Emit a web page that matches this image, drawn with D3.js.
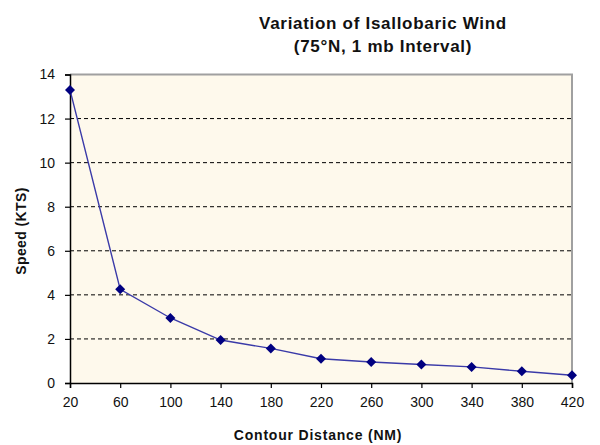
<!DOCTYPE html>
<html><head><meta charset="utf-8">
<script src="https://cdn.jsdelivr.net/npm/d3@7"></script>
<style>body{margin:0;background:#fff}svg{display:block}text{font-family:Arial,"Liberation Sans",sans-serif}</style>
</head><body><svg id="c" width="600" height="445"></svg>
<script>
const distances = [20, 60, 100, 140, 180, 220, 260, 300, 340, 380, 420];
const speeds = [13.3, 4.25, 2.95, 1.95, 1.57, 1.1, 0.95, 0.84, 0.73, 0.53, 0.35];
const xTicks = [20, 60, 100, 140, 180, 220, 260, 300, 340, 380, 420];
const yTicks = [0, 2, 4, 6, 8, 10, 12, 14];
const titleLines = ["Variation of Isallobaric Wind", "(75°N, 1 mb Interval)"];

const svg = d3.select("#c");
const L = 70, R = 572, T = 74.5, B = 383;
const x = d3.scaleLinear().domain([20, 420]).range([L, R]);
const y = d3.scaleLinear().domain([0, 14]).range([B, T]);

svg.append("rect").attr("x", L).attr("y", T).attr("width", R - L).attr("height", B - T).attr("fill", "#fef9ec");

// grid
svg.append("g").selectAll("line").data(yTicks.filter(d => d > 0 && d < 14)).join("line")
  .attr("x1", L).attr("x2", R).attr("y1", d => y(d)).attr("y2", d => y(d))
  .attr("stroke", "#000").attr("stroke-width", 1).attr("stroke-dasharray", "4,3");

// top/right border
svg.append("path").attr("d", `M${L},${T}H${R}V${B}`).attr("fill", "none").attr("stroke", "#a0a0a0").attr("stroke-width", 2);

const xAxis = svg.append("g").attr("transform", `translate(0,${B})`)
  .call(d3.axisBottom(x).tickValues(xTicks).tickSize(5).tickPadding(9));
const yAxis = svg.append("g").attr("transform", `translate(${L},0)`)
  .call(d3.axisLeft(y).tickValues(yTicks).tickSize(5).tickPadding(10));
[xAxis, yAxis].forEach(g => {
  g.attr("font-size", 14);
  g.select(".domain").attr("stroke", "#000").attr("stroke-width", 1.5);
  g.selectAll(".tick line").attr("stroke", "#000").attr("stroke-width", 1.2);
  g.selectAll("text").attr("font-size", 14).attr("fill", "#111").style("font-family", "Arial, 'Liberation Sans', sans-serif");
});

const pts = distances.map((d, i) => [d, speeds[i]]);
svg.append("path").datum(pts)
  .attr("d", d3.line().x(d => x(d[0])).y(d => y(d[1])))
  .attr("fill", "none").attr("stroke", "#3a3aa8").attr("stroke-width", 1.4);
svg.append("g").selectAll("path").data(pts).join("path")
  .attr("d", d3.symbol().type(d3.symbolDiamond2).size(64))
  .attr("transform", d => `translate(${x(d[0])},${y(d[1])})`)
  .attr("fill", "#000080");

svg.append("g").selectAll("text").data(titleLines).join("text")
  .attr("x", 383).attr("y", (d, i) => 29 + i * 22.5).attr("text-anchor", "middle")
  .attr("font-size", 17).attr("font-weight", "bold").attr("letter-spacing", 0.7).attr("fill", "#111").text(d => d);

svg.append("text").attr("x", 318).attr("y", 440).attr("text-anchor", "middle")
  .attr("font-size", 14).attr("font-weight", "bold").attr("letter-spacing", 0.8).attr("fill", "#111").text("Contour Distance (NM)");
svg.append("text").attr("transform", "translate(26,231) rotate(-90)").attr("text-anchor", "middle")
  .attr("font-size", 14).attr("font-weight", "bold").attr("letter-spacing", 0.4).attr("fill", "#111").text("Speed (KTS)");
</script></body></html>
